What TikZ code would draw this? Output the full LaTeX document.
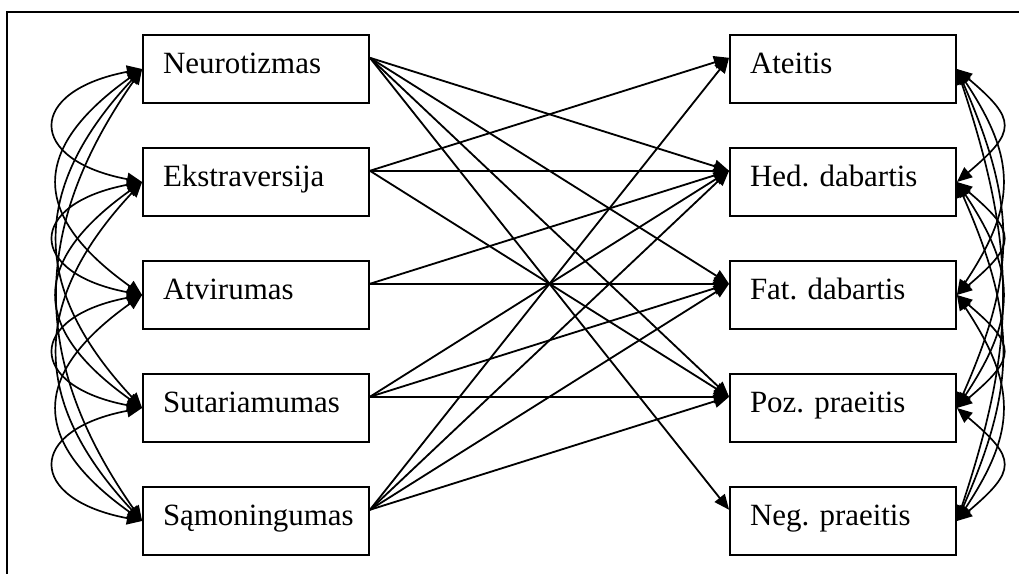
\documentclass[tikz,border=0pt]{standalone}
\usepackage{fontspec}
\setmainfont{Liberation Serif}
\usetikzlibrary{arrows.meta}
\frenchspacing

\begin{document}
\begin{tikzpicture}[
    box/.style={draw, line width=1.3pt, minimum height=1.7cm, text width=4.65cm, inner xsep=0.5cm,
        align=left, text height=0.5cm, text depth=0.25cm, font=\fontsize{22}{26}\selectfont},
    link/.style={line width=1.3pt, -{Triangle[length=0.38cm,width=0.32cm]}},
    corr/.style={line width=1.2pt, {Triangle[length=0.38cm,width=0.32cm]}-{Triangle[length=0.38cm,width=0.32cm]}}
]
            \useasboundingbox (0, 0) rectangle (25.475, 14.35);
            \draw[line width=1.3pt] (25.475, 14.05) -- (0.175, 14.05) -- (0.175, 0);

            % personality traits
            \node[box] (neu) at (6.4, 12.625) {Neurotizmas};
            \node[box] (eks) at (6.4, 9.8) {Ekstraversija};
            \node[box] (atv) at (6.4, 6.975) {Atvirumas};
            \node[box] (sut) at (6.4, 4.15) {Sutariamumas};
            \node[box] (sam) at (6.4, 1.325) {Sąmoningumas};

            % time perspectives
            \node[box] (ate) at (21.075, 12.625) {Ateitis};
            \node[box] (hed) at (21.075, 9.8) {Hed. dabartis};
            \node[box] (fat) at (21.075, 6.975) {Fat. dabartis};
            \node[box] (poz) at (21.075, 4.15) {Poz. praeitis};
            \node[box] (neg) at (21.075, 1.325) {Neg. praeitis};

            \draw[link] ([yshift=.28cm]neu.east) -- ([yshift=.28cm]hed.west);
            \draw[link] ([yshift=.28cm]neu.east) -- ([yshift=.28cm]fat.west);
            \draw[link] ([yshift=.28cm]neu.east) -- ([yshift=.28cm]poz.west);
            \draw[link] ([yshift=.28cm]neu.east) -- ([yshift=.28cm]neg.west);
            \draw[link] ([yshift=.28cm]eks.east) -- ([yshift=.28cm]ate.west);
            \draw[link] ([yshift=.28cm]eks.east) -- ([yshift=.28cm]hed.west);
            \draw[link] ([yshift=.28cm]eks.east) -- ([yshift=.28cm]poz.west);
            \draw[link] ([yshift=.28cm]atv.east) -- ([yshift=.28cm]hed.west);
            \draw[link] ([yshift=.28cm]atv.east) -- ([yshift=.28cm]fat.west);
            \draw[link] ([yshift=.28cm]sut.east) -- ([yshift=.28cm]hed.west);
            \draw[link] ([yshift=.28cm]sut.east) -- ([yshift=.28cm]fat.west);
            \draw[link] ([yshift=.28cm]sut.east) -- ([yshift=.28cm]poz.west);
            \draw[link] ([yshift=.28cm]sam.east) -- ([yshift=.28cm]ate.west);
            \draw[link] ([yshift=.28cm]sam.east) -- ([yshift=.28cm]hed.west);
            \draw[link] ([yshift=.28cm]sam.east) -- ([yshift=.28cm]fat.west);
            \draw[link] ([yshift=.28cm]sam.east) -- ([yshift=.28cm]poz.west);

            % correlations, left
            \draw[corr] (neu.west) .. controls +(-2.9, -.55) and +(-2.9, .55) .. (eks.west);
            \draw[corr] (neu.west) .. controls +(-2.8, -2) and +(-2.8, 2) .. (atv.west);
            \draw[corr] (neu.west) .. controls +(-2.8, -3) and +(-2.8, 3) .. (sut.west);
            \draw[corr] (neu.west) .. controls +(-2.8, -4) and +(-2.8, 4) .. (sam.west);
            \draw[corr] (eks.west) .. controls +(-2.9, -.55) and +(-2.9, .55) .. (atv.west);
            \draw[corr] (eks.west) .. controls +(-2.8, -2) and +(-2.8, 2) .. (sut.west);
            \draw[corr] (eks.west) .. controls +(-2.8, -3) and +(-2.8, 3) .. (sam.west);
            \draw[corr] (atv.west) .. controls +(-2.9, -.55) and +(-2.9, .55) .. (sut.west);
            \draw[corr] (atv.west) .. controls +(-2.8, -2) and +(-2.8, 2) .. (sam.west);
            \draw[corr] (sut.west) .. controls +(-2.9, -.55) and +(-2.9, .55) .. (sam.west);

            % correlations, right
            \draw[corr] (ate.east) .. controls +(1.5, -1.27) and +(1.5, 1.27) .. (hed.east);
            \draw[corr] (ate.east) .. controls +(1.5, -2.26) and +(1.5, 2.26) .. (fat.east);
            \draw[corr] (ate.east) .. controls +(1.5, -3.4) and +(1.5, 3.4) .. (poz.east);
            \draw[corr] (ate.east) .. controls +(1.5, -4.5) and +(1.5, 4.5) .. (neg.east);
            \draw[corr] (hed.east) .. controls +(1.5, -1.27) and +(1.5, 1.27) .. (fat.east);
            \draw[corr] (hed.east) .. controls +(1.5, -2.26) and +(1.5, 2.26) .. (poz.east);
            \draw[corr] (hed.east) .. controls +(1.5, -3.4) and +(1.5, 3.4) .. (neg.east);
            \draw[corr] (fat.east) .. controls +(1.5, -1.27) and +(1.5, 1.27) .. (poz.east);
            \draw[corr] (fat.east) .. controls +(1.5, -2.26) and +(1.5, 2.26) .. (neg.east);
            \draw[corr] (poz.east) .. controls +(1.5, -1.27) and +(1.5, 1.27) .. (neg.east);
        \end{tikzpicture}
\end{document}
